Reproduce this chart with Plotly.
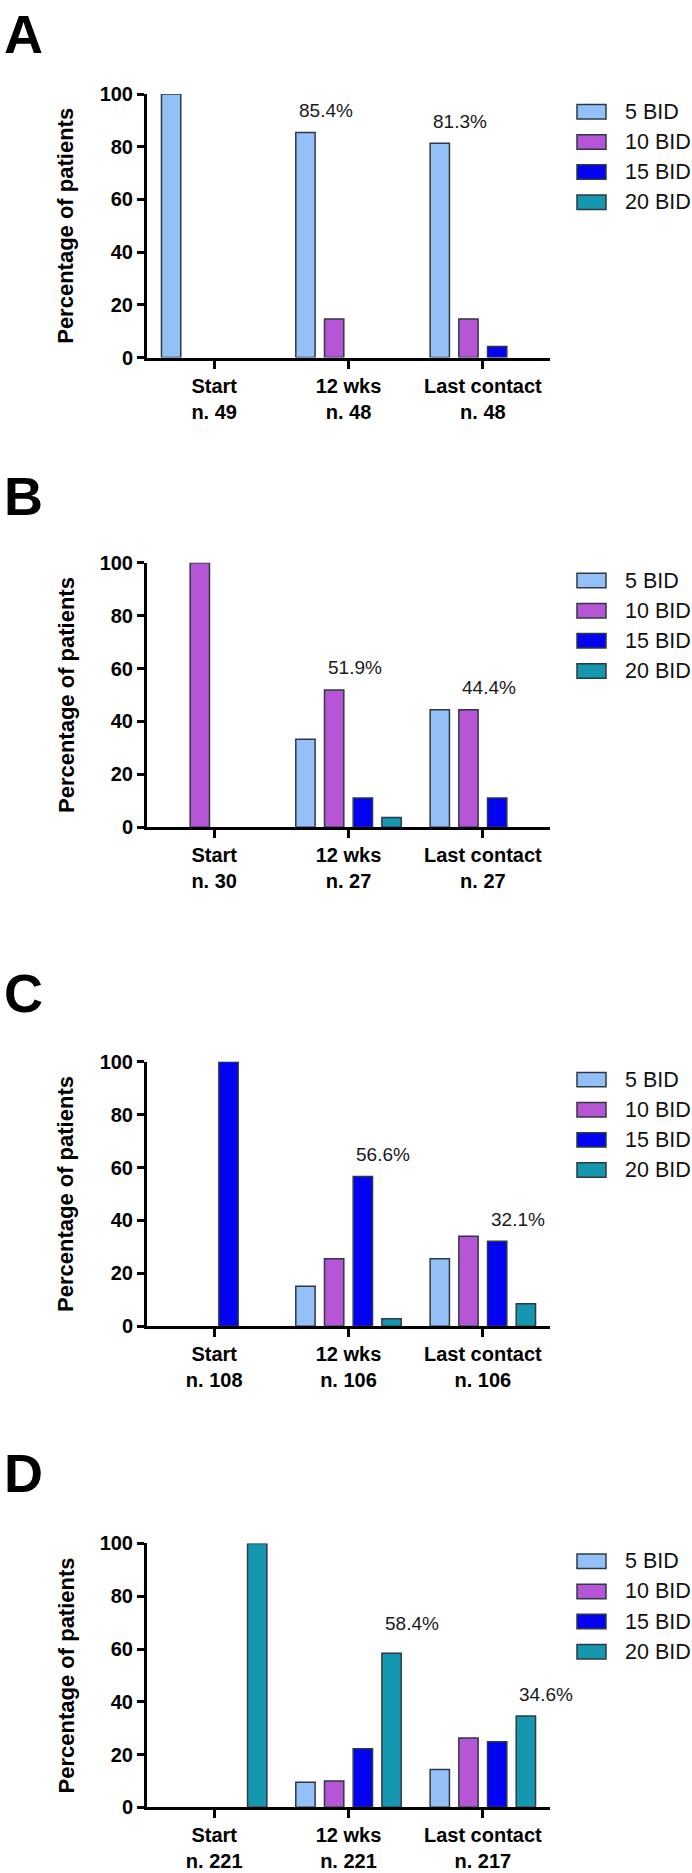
import plotly.graph_objects as go

# ---------------- data ----------------
time_points = ["Start", "12 wks", "Last contact"]
panel_letters = ["A", "B", "C", "D"]
doses = ["5 BID", "10 BID", "15 BID", "20 BID"]
dose_colors = ["#93C1F7", "#B655D6", "#0303F2", "#1597B0"]

n_A = [49, 48, 48]
n_B = [30, 27, 27]
n_C = [108, 106, 106]
n_D = [221, 221, 217]

# percentage of patients per dose: [Start, 12 wks, Last contact]
A_5 = [100, 85.4, 81.3]
A_10 = [0, 14.6, 14.6]
A_15 = [0, 0, 4.2]
A_20 = [0, 0, 0]

B_5 = [0, 33.3, 44.4]
B_10 = [100, 51.9, 44.4]
B_15 = [0, 11.1, 11.1]
B_20 = [0, 3.7, 0]

C_5 = [0, 15.1, 25.5]
C_10 = [0, 25.5, 34.0]
C_15 = [100, 56.6, 32.1]
C_20 = [0, 2.8, 8.5]

D_5 = [0, 9.5, 14.3]
D_10 = [0, 10.0, 26.3]
D_15 = [0, 22.2, 24.9]
D_20 = [100, 58.4, 34.6]

panels_n = [n_A, n_B, n_C, n_D]
panels_vals = [
    [A_5, A_10, A_15, A_20],
    [B_5, B_10, B_15, B_20],
    [C_5, C_10, C_15, C_20],
    [D_5, D_10, D_15, D_20],
]
# which dose is labelled with its percentage in each panel (12 wks & Last contact)
label_dose = [0, 1, 2, 3]

# ---------------- layout constants (pixels) ----------------
W, H = 692, 1873
FONT = "Liberation Sans, Arial, Helvetica, sans-serif"
x_left_px, x_right_px = 147, 550
panel_px = [(84, 350.7), (558.3, 826), (1063.3, 1330.8), (1550.7, 1817.7)]  # (y of 100, y of 0)
letter_px = [23, 491, 994, 1479]
BARGAP = 0.1455
BARGROUPGAP = 0.327
label_yshift = [[22, 22], [22, 22], [22, 22], [30, 22]]


def py(px):
    return 1 - px / H


def pxx(px):
    return px / W


fig = go.Figure()
annotations = []
shapes = []

cat_w = (x_right_px - x_left_px) / 3.0
slot = (1 - BARGAP) * cat_w / 4.0

for p in range(4):
    suffix = "" if p == 0 else str(p + 1)
    xa, ya = "x" + suffix, "y" + suffix
    cats = [f"{t}<br>n. {n}" for t, n in zip(time_points, panels_n[p])]
    for s in range(4):
        vals = [v if v else None for v in panels_vals[p][s]]
        fig.add_trace(go.Bar(
            x=cats, y=vals, name=doses[s],
            marker=dict(color=dose_colors[s], line=dict(color="#2E3845", width=1.5)),
            xaxis=xa, yaxis=ya, showlegend=False,
        ))
    top, bot = panel_px[p]
    dom_y = [py(bot), py(top)]
    fig.layout["xaxis" + suffix] = dict(
        domain=[pxx(x_left_px), pxx(x_right_px)], anchor=ya, type="category",
        categoryorder="array", categoryarray=cats,
        range=[-0.5, 2.5], showline=True, linecolor="black", linewidth=3,
        ticks="outside", ticklen=8, tickwidth=2.5, tickcolor="black",
        tickfont=dict(family=FONT, size=20, color="black", weight="bold"),
        showgrid=False, zeroline=False, fixedrange=True,
    )
    fig.layout["yaxis" + suffix] = dict(
        domain=dom_y, anchor=xa, range=[0, 100], tickvals=[0, 20, 40, 60, 80, 100],
        showline=True, linecolor="black", linewidth=3,
        ticks="outside", ticklen=7, tickwidth=2.5, tickcolor="black",
        tickfont=dict(family=FONT, size=20, color="black", weight="bold"),
        showgrid=False, zeroline=False, fixedrange=True,
    )
    # panel letter
    annotations.append(dict(
        text=f"<b>{panel_letters[p]}</b>", x=pxx(2), y=py(letter_px[p]), xref="paper", yref="paper",
        xanchor="left", yanchor="middle", showarrow=False,
        font=dict(family=FONT, size=54, color="black"),
    ))
    # y-axis title
    annotations.append(dict(
        text="<b>Percentage of patients</b>", x=pxx(66), y=py((top + bot) / 2), xref="paper", yref="paper",
        xanchor="center", yanchor="middle", textangle=-90, showarrow=False,
        font=dict(family=FONT, size=22, color="black"),
    ))
    # percentage labels
    d = label_dose[p]
    for k, ti in enumerate([1, 2]):
        val = panels_vals[p][d][ti]
        annotations.append(dict(
            text=f"{val:.1f}%", x=cats[ti], y=val, xref=xa, yref=ya,
            xshift=(d - 1.5) * slot + 20.5, yshift=label_yshift[p][k],
            xanchor="center", yanchor="middle", showarrow=False,
            font=dict(family=FONT, size=19, color="#1a1a1a"),
        ))
    # custom legend
    for s in range(4):
        yc = top + 18 + s * 30.5
        shapes.append(dict(
            type="rect", xref="paper", yref="paper",
            x0=pxx(577), x1=pxx(606), y0=py(yc + 7.3), y1=py(yc - 7.3),
            fillcolor=dose_colors[s], line=dict(color="#2E3845", width=1.5),
        ))
        annotations.append(dict(
            text=doses[s], x=pxx(622.5), y=py(yc), xref="paper", yref="paper",
            xanchor="left", yanchor="middle", showarrow=False,
            font=dict(family=FONT, size=21.5, color="#111111"),
        ))

fig.update_layout(
    width=W, height=H, margin=dict(l=0, r=0, t=0, b=0),
    paper_bgcolor="white", plot_bgcolor="white",
    barmode="group", bargap=BARGAP, bargroupgap=BARGROUPGAP,
    annotations=annotations, shapes=shapes, showlegend=False,
    font=dict(family=FONT, color="black"),
)

fig.write_html(
    "out.html",
    config={"displayModeBar": False},
    post_script="document.body.style.margin='0';document.body.style.overflow='hidden';",
)
